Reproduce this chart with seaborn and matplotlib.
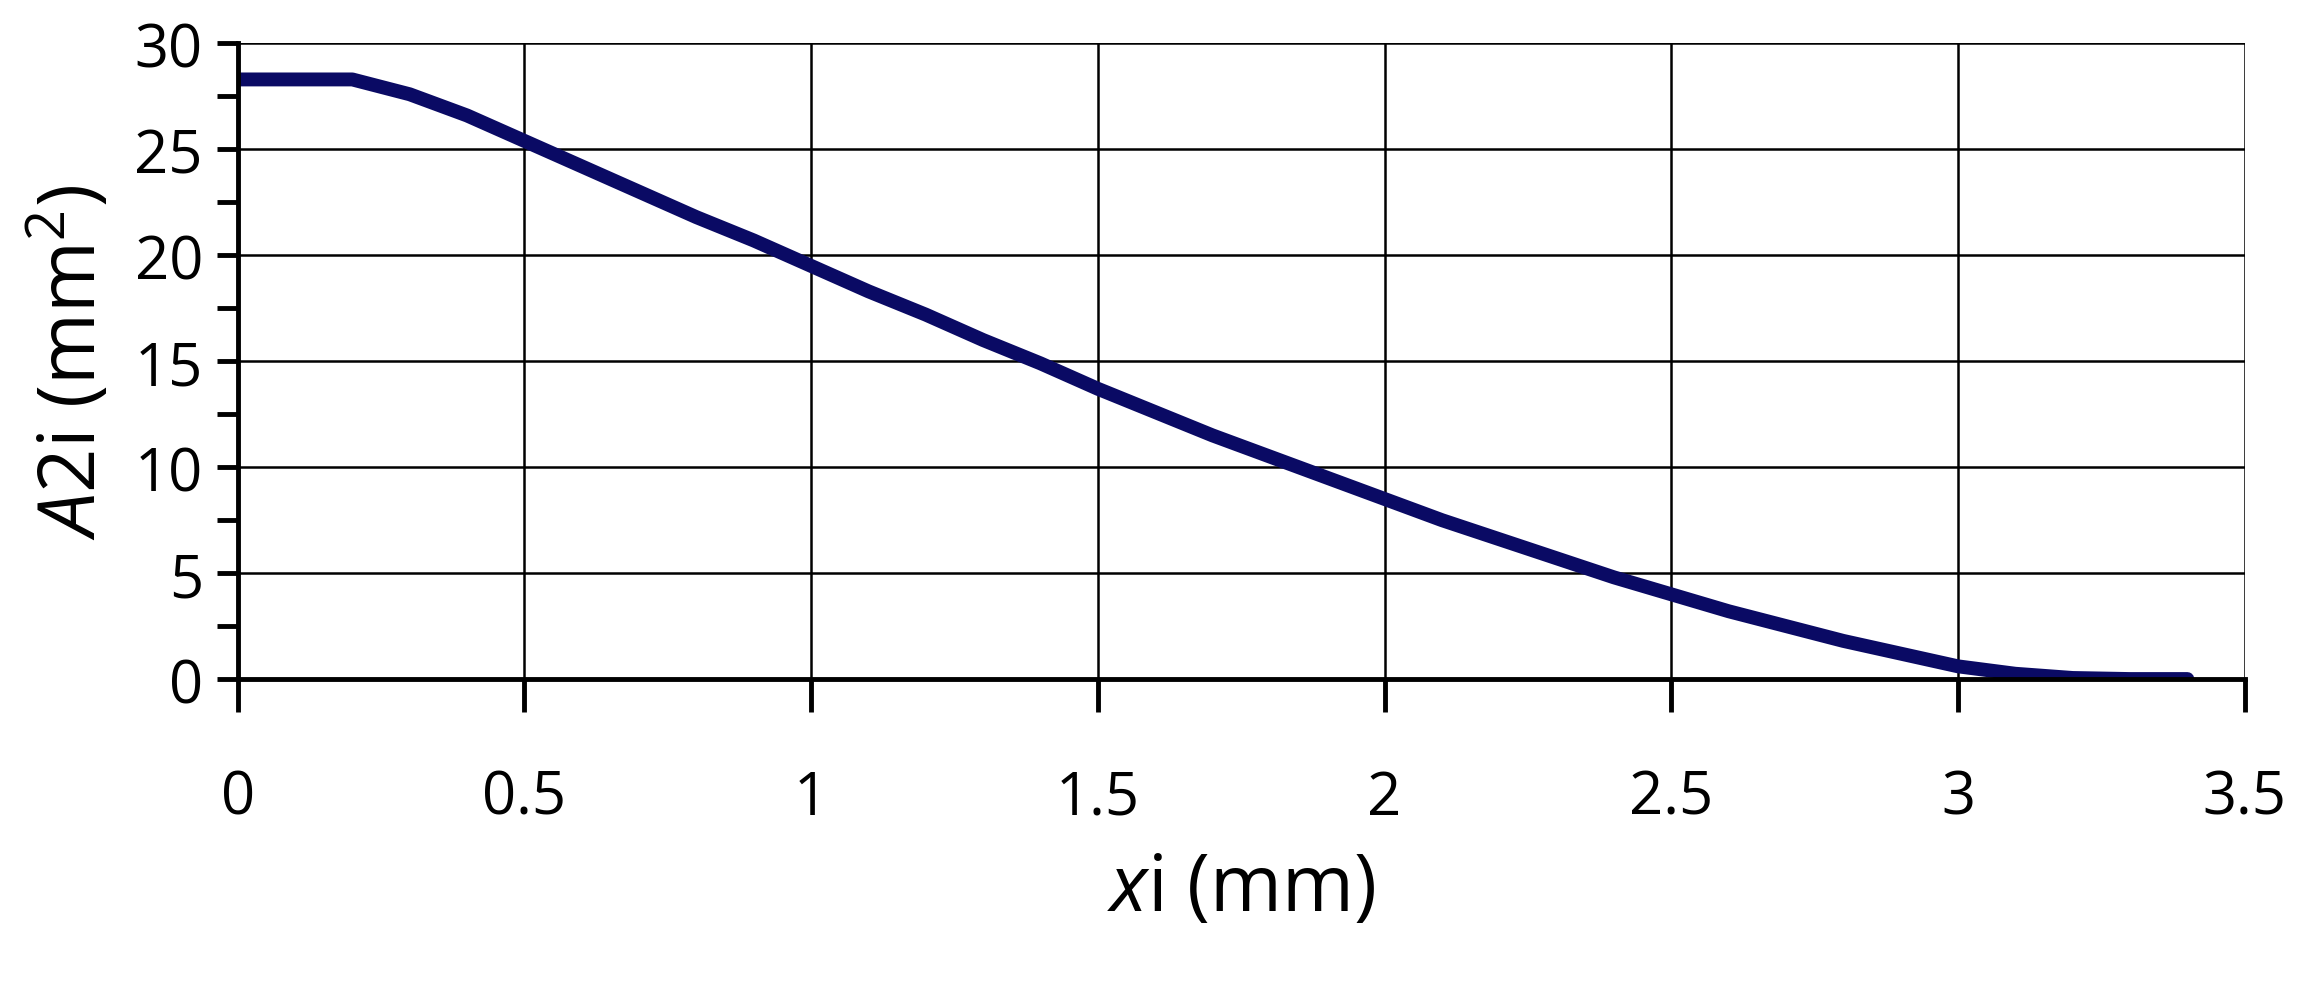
import numpy as np
import matplotlib
matplotlib.use("Agg")
import matplotlib.pyplot as plt
import seaborn as sns
from matplotlib.ticker import MultipleLocator

# Data
x_mm = [0.0, 0.1, 0.2, 0.3, 0.4, 0.5, 0.6, 0.7, 0.8, 0.9, 1.0, 1.1, 1.2, 1.3, 1.4,
        1.5, 1.6, 1.7, 1.8, 1.9, 2.0, 2.1, 2.2, 2.3, 2.4, 2.5, 2.6, 2.7, 2.8, 2.9,
        3.0, 3.1, 3.2, 3.3, 3.4]
a2_mm2 = [28.3, 28.3, 28.3, 27.6, 26.6, 25.4, 24.2, 23.0, 21.8, 20.7, 19.5, 18.3,
          17.2, 16.0, 14.9, 13.7, 12.6, 11.5, 10.5, 9.5, 8.5, 7.5, 6.6, 5.7, 4.8,
          4.0, 3.2, 2.5, 1.8, 1.2, 0.6, 0.25, 0.05, 0.0, 0.0]

sns.set_style("white")
plt.rcParams['font.family'] = ['Open Sans', 'DejaVu Sans']
plt.rcParams['mathtext.fontset'] = 'custom'
plt.rcParams['mathtext.rm'] = 'Open Sans'
plt.rcParams['mathtext.it'] = 'Open Sans:italic'
plt.rcParams['text.color'] = 'black'
plt.rcParams['axes.labelcolor'] = 'black'

fig = plt.figure(figsize=(23.07, 9.87), dpi=100)
ax = fig.add_axes([0.103, 0.311, 0.870, 0.644])

sns.lineplot(x=x_mm, y=a2_mm2, ax=ax, color='#0a0a64', linewidth=10,
             solid_capstyle='round')

ax.set_xlim(0, 3.5)
ax.set_ylim(0, 30)
ax.yaxis.set_major_locator(MultipleLocator(5))
ax.yaxis.set_minor_locator(MultipleLocator(2.5))
ax.grid(True, which='major', color='black', linewidth=1.8)
ax.set_xticks([0, 0.5, 1, 1.5, 2, 2.5, 3, 3.5])
ax.set_xticklabels(['0', '0.5', '1', '1.5', '2', '2.5', '3', '3.5'])

for s in ['top', 'right']:
    ax.spines[s].set_visible(False)
for s in ['left', 'bottom']:
    ax.spines[s].set_color('black')
    ax.spines[s].set_linewidth(3.5)

ax.tick_params(axis='x', which='major', direction='out', length=24, width=3.5,
               labelsize=43, pad=40, bottom=True, colors='black')
ax.tick_params(axis='y', which='both', direction='out', length=15, width=3.5,
               labelsize=43, pad=10, left=True, colors='black')

ax.set_xlabel(r'$\mathit{x}$i (mm)', fontsize=56, labelpad=16)
ax.set_ylabel(r'$\mathit{A}$2i (mm$^2$)', fontsize=56, labelpad=14)

fig.savefig('out.png', dpi=100)
